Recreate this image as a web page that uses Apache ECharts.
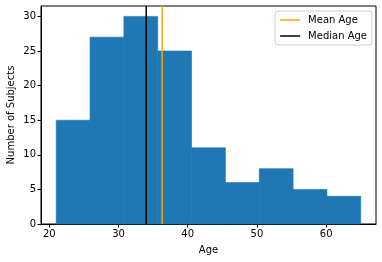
<!DOCTYPE html>
<html><head><meta charset="utf-8">
<script src="https://cdn.jsdelivr.net/npm/echarts@6/dist/echarts.min.js"></script>
<style>html,body{margin:0;padding:0;background:#fff}#c{width:382px;height:262px}</style>
</head><body><div id="c"></div>
<script>
const binEdges = [21, 25.889, 30.778, 35.667, 40.556, 45.444, 50.333, 55.222, 60.111, 65];
const counts = [15, 27, 30, 25, 11, 6, 8, 5, 4];
const meanAge = 36.3;
const medianAge = 34.0;
const xTicks = [20, 30, 40, 50, 60];
const yTicks = [0, 5, 10, 15, 20, 25, 30];

const barData = counts.map((c, i) => [binEdges[i], binEdges[i + 1], c]);
const font = 'DejaVu Sans';
const chart = echarts.init(document.getElementById('c'), null, {renderer: 'canvas'});
chart.setOption({
  animation: false,
  textStyle: {fontFamily: font},
  grid: {left: 41, right: 6, top: 6, bottom: 38, show: true, borderColor: '#000', borderWidth: 1,
    containLabel: false, outerBoundsMode: 'none'},
  xAxis: {
    type: 'value', min: 18.8, max: 67.2,
    name: 'Age', nameLocation: 'middle', nameGap: 21, nameMoveOverlap: false,
    nameTextStyle: {fontFamily: font, fontSize: 10, color: '#000'},
    axisLine: {lineStyle: {color: '#000'}},
    axisTick: {show: true, length: 3.5, lineStyle: {color: '#000'}, customValues: xTicks},
    axisLabel: {fontFamily: font, fontSize: 10, color: '#000', margin: 5, customValues: xTicks},
    splitLine: {show: false}
  },
  yAxis: {
    type: 'value', min: 0, max: 31.5,
    name: 'Number of Subjects', nameLocation: 'middle', nameGap: 25, nameMoveOverlap: false,
    nameTextStyle: {fontFamily: font, fontSize: 10, color: '#000'},
    axisLine: {show: true, lineStyle: {color: '#000'}},
    axisTick: {show: true, length: 3.5, lineStyle: {color: '#000'}, customValues: yTicks},
    axisLabel: {fontFamily: font, fontSize: 10, color: '#000', margin: 5, customValues: yTicks},
    splitLine: {show: false}
  },
  legend: {
    orient: 'vertical', right: 10, top: 11,
    data: ['Mean Age', 'Median Age'],
    icon: 'rect', itemWidth: 20, itemHeight: 1.5, itemGap: 6,
    padding: [4, 5, 4, 5],
    borderColor: '#d0d0d0', borderWidth: 1, borderRadius: 3,
    textStyle: {fontFamily: font, fontSize: 10, color: '#000', padding: [0, 0, 0, 3]}
  },
  series: [
    {
      type: 'custom', name: 'hist', data: barData,
      encode: {x: [0, 1], y: 2},
      renderItem: function (params, api) {
        const p0 = api.coord([api.value(0), api.value(2)]);
        const p1 = api.coord([api.value(1), 0]);
        return {type: 'rect', shape: {x: p0[0], y: p0[1], width: p1[0] - p0[0], height: p1[1] - p0[1]},
          style: {fill: '#1f77b4', stroke: '#1f77b4', lineWidth: 0.6}};
      }
    },
    {
      type: 'line', name: 'Mean Age', data: [[meanAge, 0], [meanAge, 31.5]],
      symbol: 'none', lineStyle: {color: '#ffa500', width: 1.5}, itemStyle: {color: '#ffa500'}, z: 5
    },
    {
      type: 'line', name: 'Median Age', data: [[medianAge, 0], [medianAge, 31.5]],
      symbol: 'none', lineStyle: {color: '#000', width: 1.5}, itemStyle: {color: '#000'}, z: 5
    }
  ]
});
</script></body></html>
